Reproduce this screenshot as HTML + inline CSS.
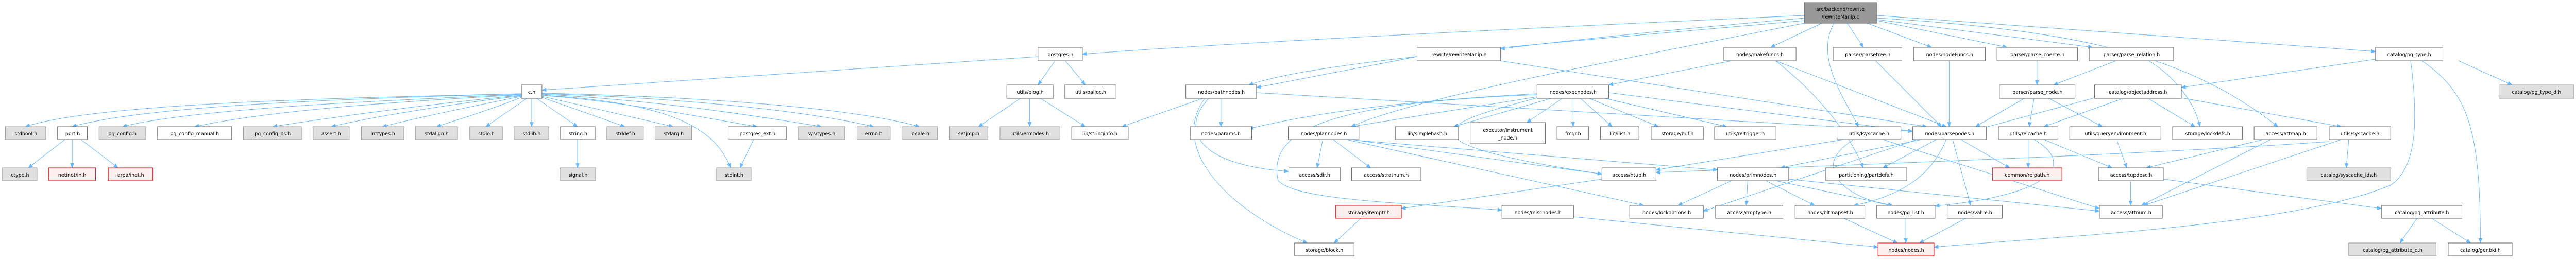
<!DOCTYPE html>
<html><head><meta charset="utf-8"><meta name="viewport" content="width=5281, initial-scale=1"><style>
html,body{margin:0;padding:0;background:#fff;width:100%;height:100%;overflow:hidden;}
svg{display:block;position:fixed;left:0;top:0;width:100vw;height:100vh;}
text{font-family:"DejaVu Sans","Liberation Sans",sans-serif;font-size:10px;fill:#000;text-anchor:middle;}
.n rect{fill:#fff;stroke:#666;stroke-width:1;}
.g rect{fill:#e0e0e0;stroke:#999;stroke-width:1;}
.r rect{fill:#fff0f0;stroke:#f00;stroke-width:1;}
.m rect{fill:#999;stroke:#666;stroke-width:1;}
.e path{fill:none;stroke:#63b8ff;stroke-width:1;marker-end:url(#a);}
</style></head><body>
<svg viewBox="0 0 5281 505" preserveAspectRatio="none" xmlns="http://www.w3.org/2000/svg">
<defs><marker id="a" markerWidth="10" markerHeight="8" refX="9" refY="4" orient="auto" markerUnits="userSpaceOnUse"><path d="M0,0 L10,4 L0,8 z" fill="#63b8ff"/></marker></defs>
<g class="e">
<path d="M3699,30 C3000,60 2500,85 2219,105"/>
<path d="M3699,35 C3400,60 3200,80 3076,95"/>
<path d="M3735,45 L3630,92"/>
<path d="M3787,45 L3820,92"/>
<path d="M3828,45 L3960,92"/>
<path d="M3848,40 L4115,92"/>
<path d="M3848,38 L4290,92"/>
<path d="M3848,30 L4870,100"/>
<path d="M3699,40 C3100,90 2700,120 2560,165"/>
<path d="M3699,45 C3300,120 2900,190 2770,246"/>
<path d="M3760,45 C3720,110 3780,190 3810,246"/>
<path d="M3848,35 C4300,60 4500,120 4670,246"/>
<path d="M2128,110 L1111,175"/>
<path d="M2163,118 L2128,165"/>
<path d="M2184,118 L2225,165"/>
<path d="M1069,182 C700,190 200,200 52,246"/>
<path d="M1069,182 C700,192 300,205 148,246"/>
<path d="M1069,183 C800,195 400,210 251,246"/>
<path d="M1069,184 C800,198 550,215 399,246"/>
<path d="M1069,185 C900,200 700,225 559,246"/>
<path d="M1069,186 C900,205 750,230 679,246"/>
<path d="M1069,187 C950,210 850,230 784,246"/>
<path d="M1069,189 C1000,215 930,235 895,246"/>
<path d="M1080,191 L996,246"/>
<path d="M1090,191 L1090,246"/>
<path d="M1100,191 L1184,246"/>
<path d="M1111,189 L1281,246"/>
<path d="M1111,187 L1380,246"/>
<path d="M1111,185 C1300,200 1450,230 1552,246"/>
<path d="M1111,183 C1350,195 1550,225 1684,246"/>
<path d="M1111,182 C1400,190 1650,215 1791,246"/>
<path d="M1111,181 C1450,188 1750,210 1885,246"/>
<path d="M1111,185 C1400,200 1470,260 1498,326"/>
<path d="M133,271 L58,326"/>
<path d="M148,271 L148,326"/>
<path d="M166,271 L242,326"/>
<path d="M1184,271 L1184,326"/>
<path d="M1545,271 L1517,326"/>
<path d="M2092,191 L2006,246"/>
<path d="M2111,191 L2111,246"/>
<path d="M2133,191 L2225,246"/>
<path d="M2905,110 L2576,170"/>
<path d="M3076,118 L3950,246"/>
<path d="M2466,191 L2300,246"/>
<path d="M2503,191 L2503,246"/>
<path d="M2478,191 C2420,250 2450,320 2642,333"/>
<path d="M2470,191 C2400,280 2500,400 2680,472"/>
<path d="M2576,180 L3921,255"/>
<path d="M3550,118 L3298,165"/>
<path d="M3640,118 L3990,246"/>
<path d="M3640,118 C3750,200 3800,280 3820,326"/>
<path d="M3151,188 L2770,246"/>
<path d="M3180,191 L2980,246"/>
<path d="M3203,191 L3130,238"/>
<path d="M3225,191 L3225,246"/>
<path d="M3240,191 L3305,246"/>
<path d="M3258,191 L3400,246"/>
<path d="M3290,191 L3540,246"/>
<path d="M3151,182 C2800,200 2650,230 2560,250"/>
<path d="M3151,184 C2700,200 2600,260 2620,350 C2650,390 2900,395 3079,408"/>
<path d="M3298,180 L3921,255"/>
<path d="M3151,190 C3000,230 2800,270 3284,338"/>
<path d="M2712,271 L2700,326"/>
<path d="M2733,271 L2810,326"/>
<path d="M2770,271 L3284,338"/>
<path d="M2760,271 L3370,399"/>
<path d="M2786,273 L3521,330"/>
<path d="M3284,348 L2873,405"/>
<path d="M2790,424 L2735,472"/>
<path d="M3226,421 L3850,480"/>
<path d="M3845,118 L3980,246"/>
<path d="M3996,118 L3996,246"/>
<path d="M4176,118 L4176,165"/>
<path d="M4338,118 L4210,165"/>
<path d="M4405,118 C4460,150 4500,200 4510,246"/>
<path d="M4150,191 L4050,246"/>
<path d="M4170,191 L4160,246"/>
<path d="M4200,191 L4310,246"/>
<path d="M4350,192 L4190,246"/>
<path d="M4405,192 L4500,246"/>
<path d="M4472,190 L4800,246"/>
<path d="M4294,190 L4060,250"/>
<path d="M4870,115 L4472,170"/>
<path d="M5040,118 L5150,165"/>
<path d="M4965,118 C5060,180 5085,250 5085,472"/>
<path d="M4942,118 C4960,250 4950,330 4900,360 C4700,440 4200,460 3965,480"/>
<path d="M3780,271 L3395,330"/>
<path d="M3800,271 C3700,330 3800,390 3880,399"/>
<path d="M3860,271 L4304,405"/>
<path d="M3940,271 L3650,326"/>
<path d="M3970,271 L3860,326"/>
<path d="M4020,271 L4120,326"/>
<path d="M4003,271 L4040,399"/>
<path d="M3990,271 C3960,340 3900,380 3800,399"/>
<path d="M3930,271 L3492,410"/>
<path d="M4158,271 L4158,326"/>
<path d="M4190,271 L4330,326"/>
<path d="M4170,271 C4260,320 4200,380 3967,400"/>
<path d="M4340,273 L4360,326"/>
<path d="M4640,271 L4400,326"/>
<path d="M4655,271 L4390,399"/>
<path d="M4815,271 L4810,326"/>
<path d="M4800,271 L4395,399"/>
<path d="M4775,275 C4400,300 3800,320 3395,335"/>
<path d="M4368,353 L4368,399"/>
<path d="M4435,348 L4882,405"/>
<path d="M3550,351 L3440,399"/>
<path d="M3583,351 L3580,399"/>
<path d="M3620,351 L3720,399"/>
<path d="M3640,351 L3880,399"/>
<path d="M3667,348 L4304,410"/>
<path d="M3780,424 L3890,472"/>
<path d="M3907,424 L3907,472"/>
<path d="M4030,424 L3935,472"/>
<path d="M4955,424 L4920,472"/>
<path d="M4985,424 L5065,472"/>
</g>

<g class="m"><rect x="3699" y="5" width="149" height="40"/></g>
<text x="3773" y="21">src/backend/rewrite</text><text x="3773" y="36">/rewriteManip.c</text>

<g class="n">
<rect x="2128" y="92" width="91" height="26"/>
<rect x="2905" y="92" width="171" height="26"/>
<rect x="3534" y="92" width="148" height="26"/>
<rect x="3758" y="92" width="141" height="26"/>
<rect x="3923" y="92" width="147" height="26"/>
<rect x="4094" y="92" width="165" height="26"/>
<rect x="4283" y="92" width="173" height="26"/>
<rect x="4870" y="92" width="138" height="26"/>
<rect x="1069" y="165" width="42" height="26"/>
<rect x="2064" y="165" width="95" height="26"/>
<rect x="2183" y="165" width="105" height="26"/>
<rect x="2431" y="165" width="145" height="26"/>
<rect x="3151" y="165" width="147" height="26"/>
<rect x="4099" y="165" width="155" height="26"/>
<rect x="4294" y="165" width="178" height="26"/>
<rect x="118" y="246" width="61" height="25"/>
<rect x="323" y="246" width="152" height="25"/>
<rect x="1149" y="246" width="71" height="25"/>
<rect x="1493" y="246" width="119" height="25"/>
<rect x="2197" y="246" width="116" height="25"/>
<rect x="2440" y="246" width="126" height="25"/>
<rect x="2641" y="246" width="145" height="25"/>
<rect x="2861" y="246" width="129" height="25"/>
<rect x="3014" y="238" width="154" height="41"/>
<rect x="3192" y="246" width="65" height="25"/>
<rect x="3281" y="246" width="79" height="25"/>
<rect x="3385" y="246" width="107" height="25"/>
<rect x="3515" y="246" width="126" height="25"/>
<rect x="3766" y="246" width="131" height="25"/>
<rect x="3921" y="246" width="151" height="25"/>
<rect x="4097" y="246" width="122" height="25"/>
<rect x="4243" y="246" width="187" height="25"/>
<rect x="4454" y="246" width="143" height="25"/>
<rect x="4621" y="246" width="129" height="25"/>
<rect x="4775" y="246" width="126" height="25"/>
<rect x="2642" y="326" width="106" height="25"/>
<rect x="2771" y="326" width="142" height="25"/>
<rect x="3284" y="326" width="111" height="25"/>
<rect x="3521" y="326" width="146" height="25"/>
<rect x="3743" y="326" width="166" height="25"/>
<rect x="4302" y="326" width="133" height="25"/>
<rect x="3079" y="399" width="147" height="25"/>
<rect x="3341" y="399" width="151" height="25"/>
<rect x="3517" y="399" width="138" height="25"/>
<rect x="3680" y="399" width="143" height="25"/>
<rect x="3847" y="399" width="120" height="25"/>
<rect x="3992" y="399" width="113" height="25"/>
<rect x="4304" y="399" width="129" height="25"/>
<rect x="4882" y="399" width="165" height="25"/>
<rect x="2654" y="472" width="122" height="25"/>
<rect x="5019" y="472" width="131" height="25"/>
</g>
<g class="g">
<rect x="5123" y="165" width="153" height="26"/>
<rect x="11" y="246" width="83" height="25"/>
<rect x="203" y="246" width="96" height="25"/>
<rect x="499" y="246" width="119" height="25"/>
<rect x="642" y="246" width="74" height="25"/>
<rect x="741" y="246" width="87" height="25"/>
<rect x="852" y="246" width="86" height="25"/>
<rect x="963" y="246" width="67" height="25"/>
<rect x="1054" y="246" width="71" height="25"/>
<rect x="1244" y="246" width="75" height="25"/>
<rect x="1343" y="246" width="75" height="25"/>
<rect x="1636" y="246" width="96" height="25"/>
<rect x="1757" y="246" width="68" height="25"/>
<rect x="1849" y="246" width="73" height="25"/>
<rect x="1946" y="246" width="79" height="25"/>
<rect x="2050" y="246" width="123" height="25"/>
<rect x="5" y="326" width="71" height="25"/>
<rect x="1148" y="326" width="73" height="25"/>
<rect x="1469" y="326" width="71" height="25"/>
<rect x="4729" y="326" width="172" height="25"/>
<rect x="4815" y="472" width="179" height="25"/>
</g>
<g class="r">
<rect x="100" y="326" width="96" height="25"/>
<rect x="222" y="326" width="91" height="25"/>
<rect x="4085" y="326" width="142" height="25"/>
<rect x="2738" y="399" width="135" height="25"/>
<rect x="3850" y="472" width="115" height="25"/>
</g>

<text x="2174" y="109">postgres.h</text>
<text x="2991" y="109">rewrite/rewriteManip.h</text>
<text x="3608" y="109">nodes/makefuncs.h</text>
<text x="3829" y="109">parser/parsetree.h</text>
<text x="3997" y="109">nodes/nodeFuncs.h</text>
<text x="4177" y="109">parser/parse_coerce.h</text>
<text x="4370" y="109">parser/parse_relation.h</text>
<text x="4939" y="109">catalog/pg_type.h</text>
<text x="1090" y="182">c.h</text>
<text x="2112" y="182">utils/elog.h</text>
<text x="2236" y="182">utils/palloc.h</text>
<text x="2504" y="182">nodes/pathnodes.h</text>
<text x="3225" y="182">nodes/execnodes.h</text>
<text x="4177" y="182">parser/parse_node.h</text>
<text x="4383" y="182">catalog/objectaddress.h</text>
<text x="5200" y="182">catalog/pg_type_d.h</text>
<text x="53" y="263">stdbool.h</text>
<text x="149" y="263">port.h</text>
<text x="251" y="263">pg_config.h</text>
<text x="399" y="263">pg_config_manual.h</text>
<text x="559" y="263">pg_config_os.h</text>
<text x="679" y="263">assert.h</text>
<text x="785" y="263">inttypes.h</text>
<text x="895" y="263">stdalign.h</text>
<text x="997" y="263">stdio.h</text>
<text x="1090" y="263">stdlib.h</text>
<text x="1185" y="263">string.h</text>
<text x="1282" y="263">stddef.h</text>
<text x="1381" y="263">stdarg.h</text>
<text x="1553" y="263">postgres_ext.h</text>
<text x="1684" y="263">sys/types.h</text>
<text x="1791" y="263">errno.h</text>
<text x="1886" y="263">locale.h</text>
<text x="1986" y="263">setjmp.h</text>
<text x="2112" y="263">utils/errcodes.h</text>
<text x="2255" y="263">lib/stringinfo.h</text>
<text x="2503" y="263">nodes/params.h</text>
<text x="2714" y="263">nodes/plannodes.h</text>
<text x="2926" y="263">lib/simplehash.h</text>
<text x="3091" y="256">executor/instrument</text><text x="3091" y="271">_node.h</text>
<text x="3225" y="263">fmgr.h</text>
<text x="3321" y="263">lib/ilist.h</text>
<text x="3439" y="263">storage/buf.h</text>
<text x="3578" y="263">utils/reltrigger.h</text>
<text x="3832" y="263">utils/lsyscache.h</text>
<text x="3997" y="263">nodes/parsenodes.h</text>
<text x="4158" y="263">utils/relcache.h</text>
<text x="4337" y="263">utils/queryenvironment.h</text>
<text x="4526" y="263">storage/lockdefs.h</text>
<text x="4686" y="263">access/attmap.h</text>
<text x="4838" y="263">utils/syscache.h</text>
<text x="41" y="343">ctype.h</text>
<text x="148" y="343">netinet/in.h</text>
<text x="268" y="343">arpa/inet.h</text>
<text x="1185" y="343">signal.h</text>
<text x="1505" y="343">stdint.h</text>
<text x="2695" y="343">access/sdir.h</text>
<text x="2842" y="343">access/stratnum.h</text>
<text x="3340" y="343">access/htup.h</text>
<text x="3594" y="343">nodes/primnodes.h</text>
<text x="3826" y="343">partitioning/partdefs.h</text>
<text x="4156" y="343">common/relpath.h</text>
<text x="4369" y="343">access/tupdesc.h</text>
<text x="4815" y="343">catalog/syscache_ids.h</text>
<text x="2806" y="416">storage/itemptr.h</text>
<text x="3153" y="416">nodes/miscnodes.h</text>
<text x="3417" y="416">nodes/lockoptions.h</text>
<text x="3586" y="416">access/cmptype.h</text>
<text x="3752" y="416">nodes/bitmapset.h</text>
<text x="3907" y="416">nodes/pg_list.h</text>
<text x="4049" y="416">nodes/value.h</text>
<text x="4369" y="416">access/attnum.h</text>
<text x="4965" y="416">catalog/pg_attribute.h</text>
<text x="2715" y="489">storage/block.h</text>
<text x="3908" y="489">nodes/nodes.h</text>
<text x="4905" y="489">catalog/pg_attribute_d.h</text>
<text x="5085" y="489">catalog/genbki.h</text>
</svg>
</body></html>
